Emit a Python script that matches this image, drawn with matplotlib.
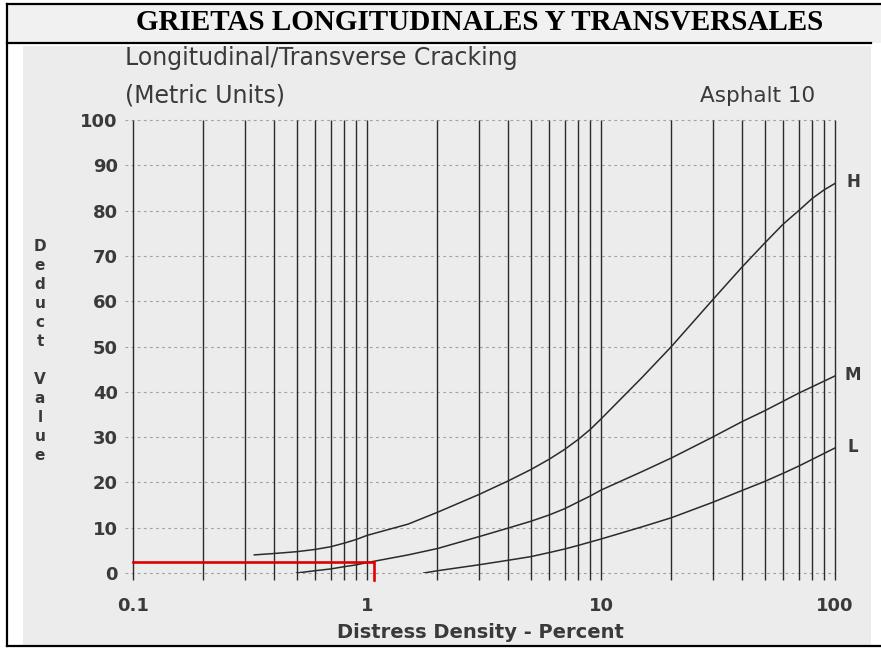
import matplotlib
matplotlib.use("Agg")
import matplotlib.pyplot as plt
from matplotlib.lines import Line2D
from matplotlib.patches import Rectangle

W, H = 881, 648

# Deduct-value curves for longitudinal/transverse cracking (asphalt)
high_density = [0.33, 0.4, 0.5, 0.6, 0.7, 0.8, 0.9, 1, 1.5, 2, 3, 4, 5, 6, 7, 8, 9, 10,
                15, 20, 30, 40, 50, 60, 70, 80, 90, 100]
high_deduct = [4.0, 4.3, 4.7, 5.2, 5.8, 6.6, 7.4, 8.3, 10.8, 13.4, 17.3, 20.3, 22.8, 25.1, 27.3,
               29.5, 31.7, 34.0, 43.2, 50.0, 60.3, 67.5, 72.8, 77.0, 80.0, 82.7, 84.6, 86.0]

med_density = [0.5, 0.6, 0.7, 0.8, 0.9, 1, 1.5, 2, 3, 4, 5, 6, 7, 8, 9, 10,
               15, 20, 30, 40, 50, 70, 100]
med_deduct = [0.0, 0.5, 0.9, 1.4, 1.8, 2.3, 4.0, 5.4, 8.0, 9.9, 11.4, 12.8, 14.2, 15.7, 17.0, 18.3,
              22.4, 25.4, 30.0, 33.4, 35.8, 39.7, 43.5]

low_density = [1.75, 2, 3, 4, 5, 6, 7, 8, 10, 15, 20, 30, 40, 50, 60, 70, 100]
low_deduct = [0.0, 0.5, 1.8, 2.8, 3.6, 4.5, 5.3, 6.1, 7.5, 10.2, 12.2, 15.6, 18.2, 20.2, 22.0, 23.6, 27.6]

severity_labels = ["H", "M", "L"]

# Worked example: density read at a deduct value of 2.5
example_density = 1.07
example_deduct = 2.5

x_ticks = [0.1, 1, 10, 100]
x_tick_labels = ["0.1", "1", "10", "100"]
y_ticks = list(range(0, 101, 10))
grid_x = [0.1, 0.2, 0.3, 0.4, 0.5, 0.6, 0.7, 0.8, 0.9,
          1, 2, 3, 4, 5, 6, 7, 8, 9,
          10, 20, 30, 40, 50, 60, 70, 80, 90, 100]

ink = "#3a3a3a"
line_ink = "#2b2b2b"


def fx(px):
    return px / W


def fy(py):
    return 1 - py / H


fig = plt.figure(figsize=(W / 100, H / 100), dpi=100)
fig.patch.set_facecolor("white")

# Header band and frame
fig.add_artist(Rectangle((fx(7), fy(43)), fx(881 - 7), 39 / H, transform=fig.transFigure,
                         facecolor="#f1f1f1", edgecolor="none", zorder=0))
fig.add_artist(Rectangle((fx(23), fy(645)), fx(871 - 23), (645 - 46) / H, transform=fig.transFigure,
                         facecolor="#ececec", edgecolor="none", zorder=0))
for xs, ys in [((7, 881), (4, 4)), ((7, 871), (43, 43)), ((7, 881), (646, 646)), ((7, 7), (4, 646))]:
    fig.add_artist(Line2D([fx(xs[0]), fx(xs[1])], [fy(ys[0]), fy(ys[1])], transform=fig.transFigure,
                          color="black", lw=1.6, zorder=5))

fig.text(fx(480), fy(23), "GRIETAS LONGITUDINALES Y TRANSVERSALES", family="Liberation Serif",
         weight="bold", fontsize=21, ha="center", va="center", color="black")

# Plot area: 0.1..100 across, 0..100 up
ax = fig.add_axes([fx(133), fy(573), fx(835 - 133), (573 - 120) / H])
ax.set_xscale("log")
ax.set_xlim(0.1, 100)
ax.set_ylim(0, 100)
ax.patch.set_alpha(0)
for s in ax.spines.values():
    s.set_visible(False)

ax.vlines(grid_x, -1.5, 100, color=line_ink, lw=1.0, clip_on=False, zorder=2)
ax.hlines(y_ticks, 0.092, 100, color="#a2a2a2", lw=0.8, linestyles=(0, (2.5, 3)),
          clip_on=False, zorder=1)

for xd, yd in [(high_density, high_deduct), (med_density, med_deduct), (low_density, low_deduct)]:
    ax.plot(xd, yd, color=line_ink, lw=1.1, zorder=3, solid_joinstyle="round")

for lab, yd in zip(severity_labels, [high_deduct, med_deduct, low_deduct]):
    ax.annotate(lab, (100, yd[-1]), xytext=(13, 1), textcoords="offset points",
                ha="center", va="center", fontsize=12, weight="bold", color=ink,
                family="DejaVu Sans", annotation_clip=False)

ax.plot([0.1, example_density, example_density], [example_deduct, example_deduct, -1.5],
        color="#e00000", lw=1.9, clip_on=False, zorder=4, solid_joinstyle="miter")

ax.set_xticks(x_ticks)
ax.set_xticklabels(x_tick_labels)
ax.set_xticks([], minor=True)
ax.set_yticks(y_ticks)
ax.tick_params(length=0)
ax.tick_params(axis="y", pad=11)
ax.tick_params(axis="x", pad=17)
for t in ax.get_xticklabels() + ax.get_yticklabels():
    t.set_fontsize(13)
    t.set_fontweight("bold")
    t.set_color(ink)
    t.set_family("DejaVu Sans")

fig.text(fx(125), fy(58), "Longitudinal/Transverse Cracking", fontsize=17, color=ink,
         family="DejaVu Sans", ha="left", va="center")
fig.text(fx(125), fy(96), "(Metric Units)", fontsize=17, color=ink,
         family="DejaVu Sans", ha="left", va="center")
fig.text(fx(815), fy(96), "Asphalt 10", fontsize=15.5, color=ink,
         family="DejaVu Sans", ha="right", va="center")
fig.text(fx(480), fy(633), "Distress Density - Percent", fontsize=14, color=ink, weight="bold",
         family="DejaVu Sans", ha="center", va="center")
fig.text(fx(40), fy(351), "D\ne\nd\nu\nc\nt\n\nV\na\nl\nu\ne", fontsize=11, color=ink,
         weight="bold", family="DejaVu Sans", ha="center", va="center", linespacing=1.33)

fig.savefig("out.png", dpi=100)
